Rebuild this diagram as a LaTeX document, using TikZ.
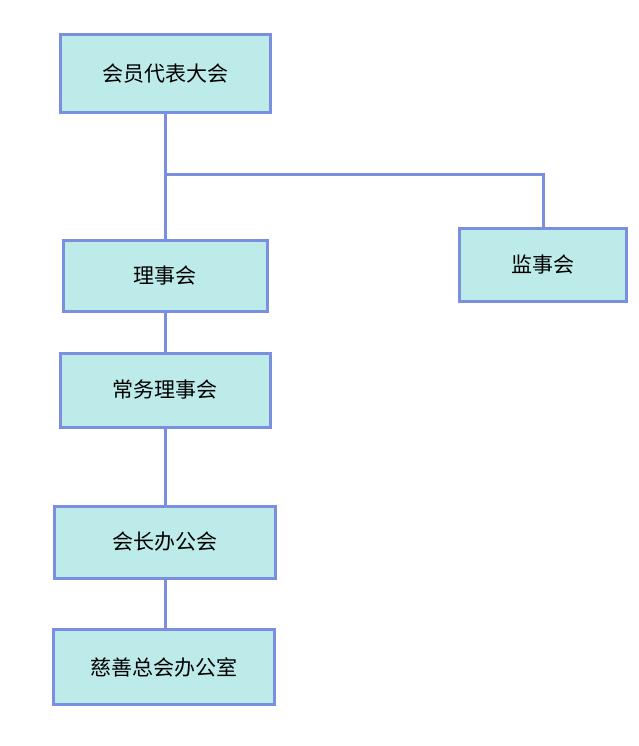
\documentclass[tikz,border=0pt]{standalone}
\usepackage{fontspec}
\newfontfamily\cjk{Noto Sans CJK SC}
\definecolor{bfill}{HTML}{BDEBEA}
\definecolor{bline}{HTML}{7B8FE0}
\begin{document}
\begin{tikzpicture}[x=1pt,y=-1pt,
  box/.style={draw=bline,fill=bfill,line width=3pt,inner sep=0pt,font=\cjk\fontsize{21}{24}\selectfont},
  con/.style={draw=bline,line width=3pt}]
\useasboundingbox (0,0) rectangle (639,746);
\node[box,minimum width=210pt,minimum height=78pt] (a) at (165,74) {会员代表大会};
\node[box,minimum width=204pt,minimum height=71pt] (b) at (165,276) {理事会};
\node[box,minimum width=167pt,minimum height=73pt] (c) at (543,265) {监事会};
\node[box,minimum width=210pt,minimum height=74pt] (d) at (165,390) {常务理事会};
\node[box,minimum width=221pt,minimum height=72pt] (e) at (165,542) {会长办公会};
\node[box,minimum width=221pt,minimum height=75pt] (f) at (163.5,667) {慈善总会办公室};
\coordinate (j) at (165,175);
\draw[con] (a.south) -- (b.north);
\draw[con] (j) -| (c.north);
\draw[con] (b.south) -- (d.north);
\draw[con] (d.south) -- (e.north);
\draw[con] (e.south) -- (e.south |- f.north);
\end{tikzpicture}
\end{document}
